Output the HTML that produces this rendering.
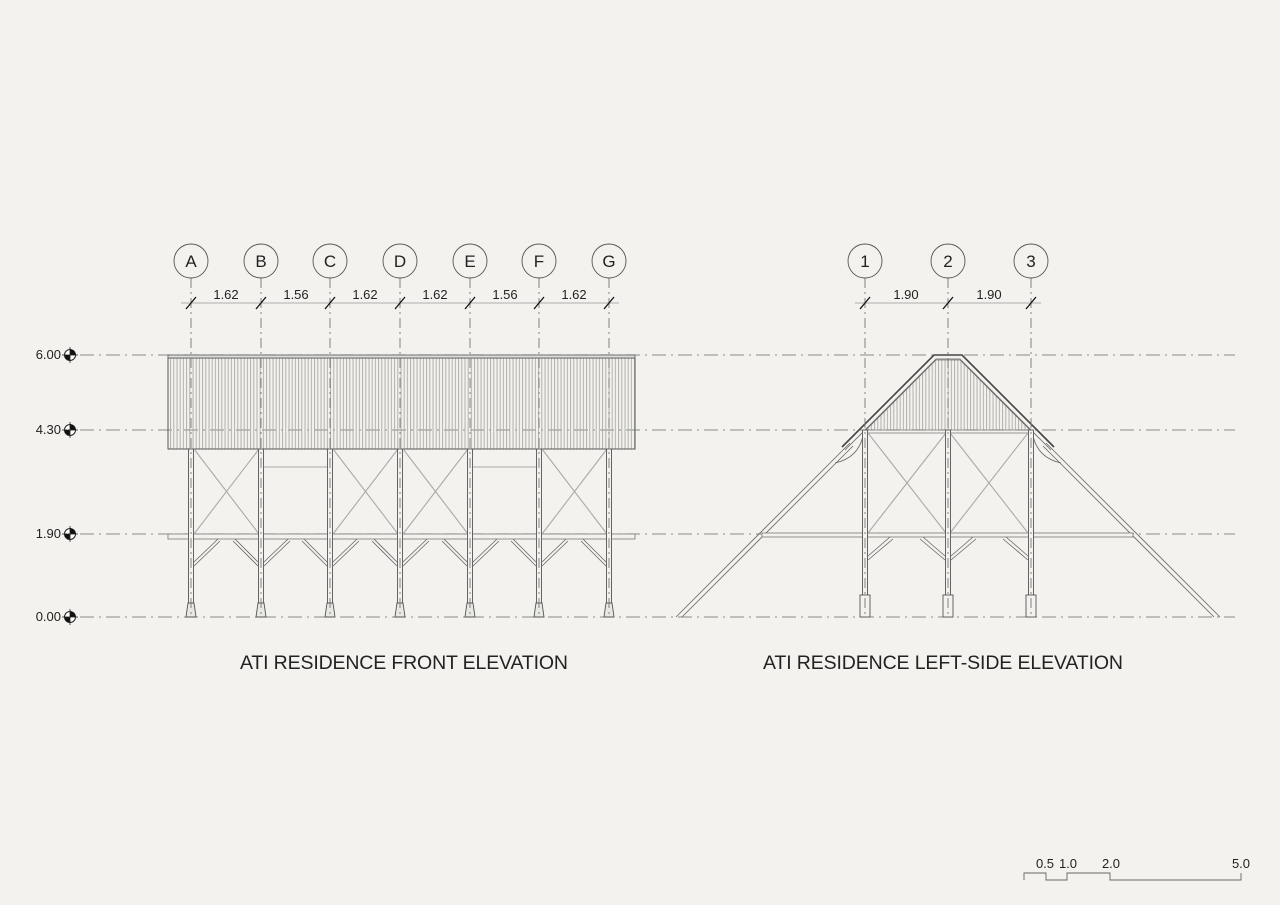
<!DOCTYPE html>
<html><head><meta charset="utf-8"><style>
html,body{margin:0;padding:0;background:#f3f2ee;}
svg{display:block;font-family:"Liberation Sans",Arial,sans-serif;}
</style></head><body>
<svg width="1280" height="905" viewBox="0 0 1280 905" xmlns="http://www.w3.org/2000/svg">
<defs>
<pattern id="vh" width="3.2" height="10" patternUnits="userSpaceOnUse">
<line x1="1" y1="0" x2="1" y2="10" stroke="#a9a9a6" stroke-width="0.9"/>
</pattern>
<g id="lvl">
<circle cx="0" cy="0" r="5.5" fill="#fff" stroke="#222" stroke-width="1"/>
<path d="M0 0 L0 -5.5 A5.5 5.5 0 0 1 5.5 0 Z" fill="#111"/>
<path d="M0 0 L0 5.5 A5.5 5.5 0 0 1 -5.5 0 Z" fill="#111"/>
<line x1="-8" y1="0" x2="8" y2="0" stroke="#222" stroke-width="0.8"/>
<line x1="0" y1="-8" x2="0" y2="8" stroke="#222" stroke-width="0.8"/>
</g>
</defs>
<rect width="1280" height="905" fill="#f3f2ee"/>

<g stroke="#8a8a88" stroke-width="0.9" stroke-dasharray="14,5,2,5" fill="none">
<line x1="80" y1="355" x2="1235" y2="355"/>
<line x1="80" y1="430" x2="1235" y2="430"/>
<line x1="80" y1="534" x2="1235" y2="534"/>
<line x1="80" y1="617" x2="1235" y2="617"/>
</g>
<g font-size="13" fill="#222" text-anchor="end">
<text x="61" y="359">6.00</text><text x="61" y="434">4.30</text>
<text x="61" y="538">1.90</text><text x="61" y="621">0.00</text>
</g>
<use href="#lvl" x="70" y="355"/><use href="#lvl" x="70" y="430"/>
<use href="#lvl" x="70" y="534"/><use href="#lvl" x="70" y="617"/>

<rect x="168" y="358" width="467" height="91" fill="url(#vh)" stroke="#555" stroke-width="1"/>
<rect x="168" y="355" width="467" height="3" fill="#ddd" stroke="#555" stroke-width="0.8"/>
<rect x="168" y="534" width="467" height="5" fill="#f3f2ee" stroke="#777" stroke-width="0.8"/>
<g stroke="#aaa" stroke-width="1.1">
<line x1="194" y1="449" x2="259" y2="534"/><line x1="259" y1="449" x2="194" y2="534"/>
<line x1="333" y1="449" x2="398" y2="534"/><line x1="398" y1="449" x2="333" y2="534"/>
<line x1="403" y1="449" x2="468" y2="534"/><line x1="468" y1="449" x2="403" y2="534"/>
<line x1="542" y1="449" x2="607" y2="534"/><line x1="607" y1="449" x2="542" y2="534"/>
<line x1="264" y1="467" x2="328" y2="467"/><line x1="473" y1="467" x2="537" y2="467"/>
</g>
<g stroke="#555" stroke-width="0.9" fill="#f3f2ee">
<rect x="188.5" y="449" width="5" height="160"/>
<rect x="258.5" y="449" width="5" height="160"/>
<rect x="327.5" y="449" width="5" height="160"/>
<rect x="397.5" y="449" width="5" height="160"/>
<rect x="467.5" y="449" width="5" height="160"/>
<rect x="536.5" y="449" width="5" height="160"/>
<rect x="606.5" y="449" width="5" height="160"/>
</g>
<g stroke="#555" stroke-width="0.9" fill="#e8e8e4">
<path d="M188 603 L194 603 L196 617 L186 617 Z"/>
<path d="M258 603 L264 603 L266 617 L256 617 Z"/>
<path d="M327 603 L333 603 L335 617 L325 617 Z"/>
<path d="M397 603 L403 603 L405 617 L395 617 Z"/>
<path d="M467 603 L473 603 L475 617 L465 617 Z"/>
<path d="M536 603 L542 603 L544 617 L534 617 Z"/>
<path d="M606 603 L612 603 L614 617 L604 617 Z"/>
</g>
<g stroke="#666" stroke-width="0.8">
<path d="M194 562 L218 539 M194 566 L220 541"/>
<path d="M258 562 L235 539 M258 566 L233 541"/>
<path d="M264 562 L288 539 M264 566 L290 541"/>
<path d="M327 562 L304 539 M327 566 L302 541"/>
<path d="M333 562 L357 539 M333 566 L359 541"/>
<path d="M397 562 L374 539 M397 566 L372 541"/>
<path d="M403 562 L427 539 M403 566 L429 541"/>
<path d="M467 562 L444 539 M467 566 L442 541"/>
<path d="M473 562 L497 539 M473 566 L499 541"/>
<path d="M536 562 L513 539 M536 566 L511 541"/>
<path d="M542 562 L566 539 M542 566 L568 541"/>
<path d="M606 562 L583 539 M606 566 L581 541"/>
</g>

<path d="M866 430 L936 360 L960 360 L1030 430 Z" fill="url(#vh)" stroke="#777" stroke-width="0.8"/>
<g stroke="#444" stroke-width="1.6" fill="none">
<path d="M842 447 L934 355 L962 355 L1054 447"/>
</g>
<g stroke="#666" stroke-width="0.8" fill="none">
<path d="M845 450 L936 359 L960 359 L1051 450"/>
<path d="M676 617 L850 443 M682 617 L853 446"/>
<path d="M1220 617 L1046 443 M1214 617 L1043 446"/>
<path d="M863 436 Q858 458 835 463"/><path d="M1033 436 Q1038 458 1061 463"/>
</g>
<rect x="762" y="533" width="371" height="4" fill="#f3f2ee" stroke="#777" stroke-width="0.8"/>
<line x1="866" y1="433" x2="1030" y2="433" stroke="#777" stroke-width="0.8"/>
<g stroke="#aaa" stroke-width="1.1">
<line x1="868" y1="433" x2="946" y2="533"/><line x1="946" y1="433" x2="868" y2="533"/>
<line x1="950" y1="433" x2="1028" y2="533"/><line x1="1028" y1="433" x2="950" y2="533"/>
</g>
<g stroke="#555" stroke-width="0.9" fill="#f3f2ee">
<rect x="862.5" y="430" width="5" height="180"/>
<rect x="945.5" y="430" width="5" height="180"/>
<rect x="1028.5" y="430" width="5" height="180"/>
<rect x="860" y="595" width="10" height="22"/>
<rect x="943" y="595" width="10" height="22"/>
<rect x="1026" y="595" width="10" height="22"/>
</g>
<g stroke="#666" stroke-width="0.8">
<path d="M868 556 L890 537 M868 560 L893 539"/>
<path d="M945 556 L923 537 M945 560 L920 539"/>
<path d="M951 556 L973 537 M951 560 L976 539"/>
<path d="M1028 556 L1006 537 M1028 560 L1003 539"/>
</g>

<g stroke="#777" stroke-width="0.9" stroke-dasharray="10,4,2,4" fill="none">
<line x1="191" y1="278" x2="191" y2="617"/><line x1="261" y1="278" x2="261" y2="617"/>
<line x1="330" y1="278" x2="330" y2="617"/><line x1="400" y1="278" x2="400" y2="617"/>
<line x1="470" y1="278" x2="470" y2="617"/><line x1="539" y1="278" x2="539" y2="617"/>
<line x1="609" y1="278" x2="609" y2="617"/>
<line x1="865" y1="278" x2="865" y2="617"/><line x1="948" y1="278" x2="948" y2="617"/>
<line x1="1031" y1="278" x2="1031" y2="617"/>
</g>
<g stroke="#999" stroke-width="0.8">
<line x1="181" y1="303" x2="619" y2="303"/>
<line x1="855" y1="303" x2="1041" y2="303"/>
</g>
<g stroke="#111" stroke-width="1.3">
<path d="M186 309 L196 297 M256 309 L266 297 M325 309 L335 297 M395 309 L405 297 M465 309 L475 297 M534 309 L544 297 M604 309 L614 297 M860 309 L870 297 M943 309 L953 297 M1026 309 L1036 297"/>
</g>
<g font-size="13" fill="#222" text-anchor="middle">
<text x="226" y="299">1.62</text><text x="296" y="299">1.56</text><text x="365" y="299">1.62</text>
<text x="435" y="299">1.62</text><text x="505" y="299">1.56</text><text x="574" y="299">1.62</text>
<text x="906" y="299">1.90</text><text x="989" y="299">1.90</text>
</g>
<g fill="#f3f2ee" stroke="#555" stroke-width="0.9">
<circle cx="191" cy="261" r="17"/><circle cx="261" cy="261" r="17"/><circle cx="330" cy="261" r="17"/>
<circle cx="400" cy="261" r="17"/><circle cx="470" cy="261" r="17"/><circle cx="539" cy="261" r="17"/>
<circle cx="609" cy="261" r="17"/>
<circle cx="865" cy="261" r="17"/><circle cx="948" cy="261" r="17"/><circle cx="1031" cy="261" r="17"/>
</g>
<g font-size="17" fill="#222" text-anchor="middle">
<text x="191" y="267">A</text><text x="261" y="267">B</text><text x="330" y="267">C</text>
<text x="400" y="267">D</text><text x="470" y="267">E</text><text x="539" y="267">F</text>
<text x="609" y="267">G</text>
<text x="865" y="267">1</text><text x="948" y="267">2</text><text x="1031" y="267">3</text>
</g>

<g font-size="19.5" fill="#222" text-anchor="middle">
<text x="404" y="669" textLength="328">ATI RESIDENCE FRONT ELEVATION</text>
<text x="943" y="669" textLength="360">ATI RESIDENCE LEFT-SIDE ELEVATION</text>
</g>

<path d="M1024 880 L1024 873 L1046 873 L1046 880 L1067 880 L1067 873 L1110 873 L1110 880 L1241 880 L1241 873" fill="none" stroke="#666" stroke-width="0.9"/>
<g font-size="13" fill="#222" text-anchor="middle">
<text x="1045" y="868">0.5</text><text x="1068" y="868">1.0</text><text x="1111" y="868">2.0</text><text x="1241" y="868">5.0</text>
</g>
</svg>
</body></html>
